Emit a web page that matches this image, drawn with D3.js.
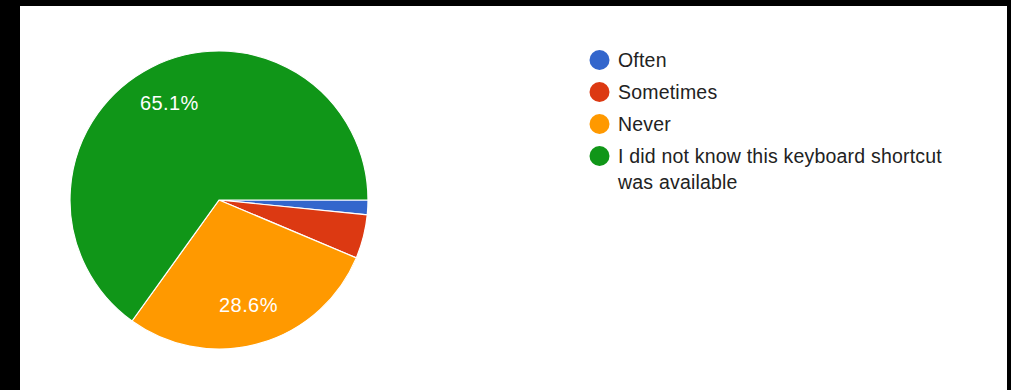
<!DOCTYPE html>
<html>
<head>
<meta charset="utf-8">
<script src="https://cdn.jsdelivr.net/npm/d3@7"></script>
<style>
html,body{margin:0;padding:0;background:#000;}
svg{display:block;}
</style>
</head>
<body>
<svg id="chart" width="1011" height="390"></svg>
<script>
const categories = ["Often", "Sometimes", "Never", "I did not know this keyboard shortcut was available"];
const legendLines = [["Often"], ["Sometimes"], ["Never"], ["I did not know this keyboard shortcut", "was available"]];
const counts = [1, 3, 18, 41];
const colors = ["#3366cc", "#dc3912", "#ff9900", "#109618"];

const svg = d3.select("#chart");
svg.append("rect").attr("x", 20).attr("y", 6).attr("width", 987).attr("height", 384).attr("fill", "#fff");

const cx = 219, cy = 200, r = 149;
const total = d3.sum(counts);
const pie = d3.pie().sort(null).startAngle(Math.PI / 2).endAngle(Math.PI / 2 + 2 * Math.PI);
const arcs = pie(counts);
const arc = d3.arc().innerRadius(0).outerRadius(r);
const g = svg.append("g").attr("transform", `translate(${cx},${cy})`);
g.selectAll("path").data(arcs).join("path")
  .attr("d", arc)
  .attr("fill", (d, i) => colors[i])
  .attr("stroke", "#fff")
  .attr("stroke-width", 1.2);

const labelArc = d3.arc().innerRadius(r * 0.73).outerRadius(r * 0.73);
g.selectAll("text.lbl").data(arcs.filter(d => d.data / total > 0.1)).join("text")
  .attr("class", "lbl")
  .attr("transform", d => { const c = labelArc.centroid(d); return `translate(${c[0]},${c[1] + 7})`; })
  .attr("text-anchor", "middle")
  .attr("fill", "#fff")
  .style("font-family", "'Liberation Sans', Arial, sans-serif")
  .style("font-size", "20px")
  .style("letter-spacing", "0.4px")
  .text(d => (d.data / total * 100).toFixed(1) + "%");

const lx = 599.5, ly0 = 60, lstep = 32;
const leg = svg.append("g");
legendLines.forEach((lines, i) => {
  const y = ly0 + i * lstep;
  leg.append("circle").attr("cx", lx).attr("cy", y).attr("r", 10).attr("fill", colors[i]);
  const t = leg.append("text")
    .attr("x", 618).attr("y", y + 6.5)
    .attr("fill", "#222")
    .style("font-family", "'Liberation Sans', Arial, sans-serif")
    .style("font-size", "19.5px")
    .style("letter-spacing", "0.2px");
  lines.forEach((ln, j) => {
    t.append("tspan").attr("x", 618).attr("dy", j === 0 ? 0 : 26).text(ln);
  });
});
</script>
</body>
</html>
